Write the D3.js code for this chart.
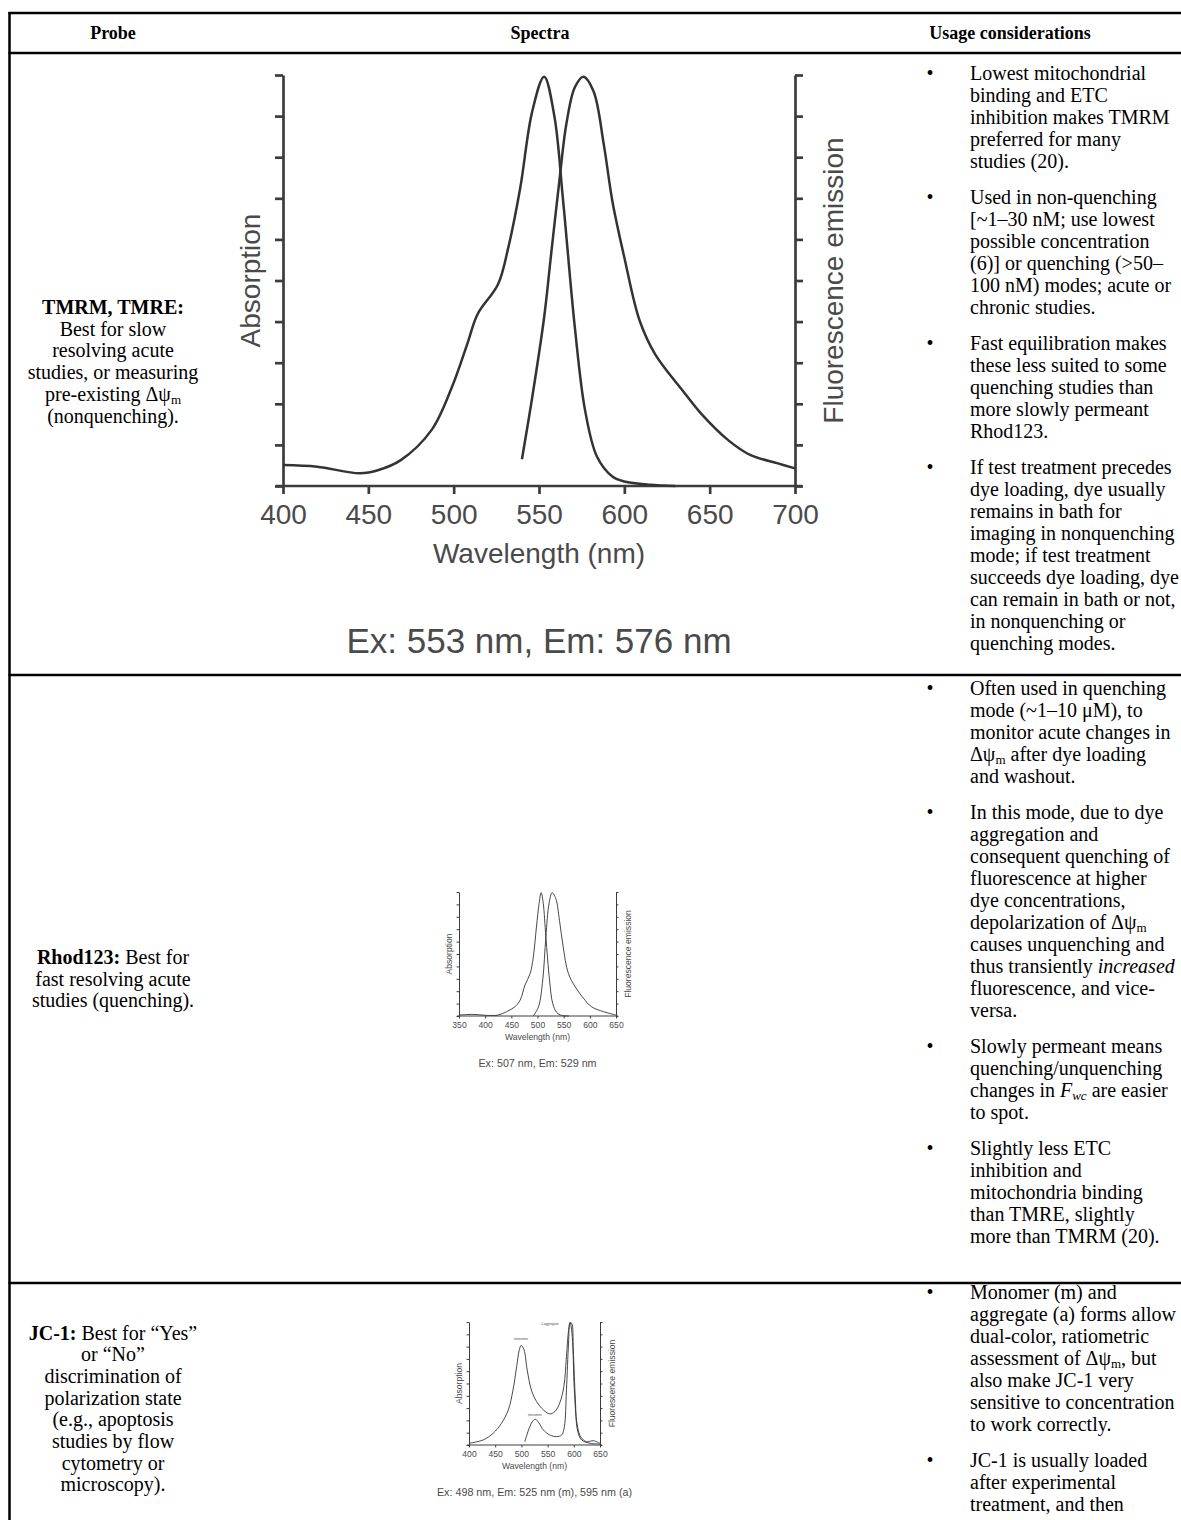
<!DOCTYPE html>
<html>
<head>
<meta charset="utf-8">
<script src="https://cdn.jsdelivr.net/npm/d3@7"></script>
<style>
  body { margin: 0; background: #fff; }
  svg text { font-family: "Liberation Serif", "Times New Roman", serif; fill: #000; }
  svg .fig text { font-family: "Liberation Sans", Arial, sans-serif; fill: #4a4a4a; }
</style>
</head>
<body>
<svg id="page" width="1181" height="1520"></svg>
<script>
// ---- spectra: [wavelength nm, relative intensity 0..1] ----
const tmrmAbs = [[400,0.051],[420,0.047],[445,0.031],[456,0.039],[469,0.063],[487,0.136],[499,0.241],[508,0.346],[514,0.418],[526,0.491],[532,0.58],[539,0.725],[546,0.911],[553,0.996],[559,0.9],[564,0.7],[571,0.386],[577,0.184],[584,0.071],[593,0.023],[600,0.011],[615,0.003],[630,0]];
const tmrmEm = [[540,0.065],[546,0.215],[553,0.41],[557,0.56],[562,0.745],[566,0.88],[571,0.97],[576,0.996],[582,0.96],[588,0.83],[593,0.693],[600,0.556],[609,0.402],[618,0.321],[634,0.233],[645,0.176],[661,0.111],[674,0.075],[690,0.055],[700,0.043]];

const rhodAbs = [[350,0.008],[377,0.013],[403,0.005],[425,0.008],[441,0.035],[457,0.075],[467,0.129],[476,0.249],[486,0.343],[492,0.477],[498,0.718],[503,0.906],[507,0.995],[511,0.906],[516,0.638],[523,0.29],[529,0.102],[537,0.027],[546,0.005],[560,0]];
const rhodEm = [[492,0],[502,0.075],[510,0.29],[516,0.638],[522,0.906],[528,0.995],[535,0.946],[542,0.772],[549,0.558],[559,0.343],[572,0.236],[588,0.142],[603,0.075],[626,0.035],[650,0.008]];

const jcAbs = [[400,0.014],[427,0.041],[446,0.095],[462,0.177],[475,0.285],[484,0.448],[491,0.639],[496,0.774],[499.5,0.81],[505,0.774],[511,0.611],[519,0.448],[529,0.353],[542,0.285],[554,0.253],[564,0.272],[573,0.34],[581,0.476],[586,0.72],[590,0.93],[593,0.997],[597,0.883],[601,0.448],[606,0.177],[613,0.068],[624,0.027],[637,0.035],[650,0.014]];
const jcEm = [[506.5,0.027],[516,0.149],[522,0.196],[527,0.209],[533,0.182],[542,0.122],[554,0.082],[567,0.068],[577,0.082],[582,0.149],[586,0.448],[590,0.829],[593,0.992],[596,0.99],[599,0.774],[603,0.367],[607,0.122],[615,0.041],[631,0.014],[650,0.008]];
const jcNotes = [["J-aggregate", 554, 0.975], ["monomer", 499.5, 0.855], ["monomer", 526, 0.236]];

const levelTicks = [0, 0.1, 0.2, 0.3, 0.4, 0.5, 0.6, 0.7, 0.8, 0.9, 1];
const tmrmTicks = [400, 450, 500, 550, 600, 650, 700];
const rhodTicks = [350, 400, 450, 500, 550, 600, 650];
const jcTicks = [400, 450, 500, 550, 600, 650];
const captions = ["Ex: 553 nm, Em: 576 nm", "Ex: 507 nm, Em: 529 nm", "Ex: 498 nm, Em: 525 nm (m), 595 nm (a)"];

// ---- table text ----
const headers = ["Probe", "Spectra", "Usage considerations"];
const probeText = [
  [[["TMRM, TMRE:", "b"]], "Best for slow", "resolving acute", "studies, or measuring", [["pre-existing Δψ", ""], ["m", "s"]], "(nonquenching)."],
  [[["Rhod123:", "b"], [" Best for", ""]], "fast resolving acute", "studies (quenching)."],
  [[["JC-1:", "b"], [" Best for “Yes”", ""]], "or “No”", "discrimination of", "polarization state", "(e.g., apoptosis", "studies by flow", "cytometry or", "microscopy)."]
];
const usageText = [
  [
    ["Lowest mitochondrial", "binding and ETC", "inhibition makes TMRM", "preferred for many", "studies (20)."],
    ["Used in non-quenching", "[~1–30 nM; use lowest", "possible concentration", "(6)] or quenching (>50–", "100 nM) modes; acute or", "chronic studies."],
    ["Fast equilibration makes", "these less suited to some", "quenching studies than", "more slowly permeant", "Rhod123."],
    ["If test treatment precedes", "dye loading, dye usually", "remains in bath for", "imaging in nonquenching", "mode; if test treatment", "succeeds dye loading, dye", "can remain in bath or not,", "in nonquenching or", "quenching modes."]
  ],
  [
    ["Often used in quenching", "mode (~1–10 μM), to", "monitor acute changes in", [["Δψ", ""], ["m", "s"], [" after dye loading", ""]], "and washout."],
    ["In this mode, due to dye", "aggregation and", "consequent quenching of", "fluorescence at higher", "dye concentrations,", [["depolarization of Δψ", ""], ["m", "s"]], "causes unquenching and", [["thus transiently ", ""], ["increased", "i"]], "fluorescence, and vice-", "versa."],
    ["Slowly permeant means", "quenching/unquenching", [["changes in ", ""], ["F", "i"], ["wc", "is"], [" are easier", ""]], "to spot."],
    ["Slightly less ETC", "inhibition and", "mitochondria binding", "than TMRE, slightly", "more than TMRM (20)."]
  ],
  [
    ["Monomer (m) and", "aggregate (a) forms allow", "dual-color, ratiometric", [["assessment of Δψ", ""], ["m", "s"], [", but", ""]], "also make JC-1 very", "sensitive to concentration", "to work correctly."],
    ["JC-1 is usually loaded", "after experimental", "treatment, and then"]
  ]
];

const page = d3.select("#page");

// table rules
const rows = [13, 53, 675, 1283];
rows.forEach(y => page.append("line")
  .attr("x1", 8.5).attr("x2", 1181).attr("y1", y).attr("y2", y)
  .attr("stroke", "#000").attr("stroke-width", 2.5));
page.append("line").attr("x1", 9.5).attr("x2", 9.5).attr("y1", 12).attr("y2", 1520)
  .attr("stroke", "#000").attr("stroke-width", 2.5);

function writeLine(x, y, anchor, line, size) {
  const t = page.append("text").attr("x", x).attr("y", y)
    .attr("text-anchor", anchor).attr("font-size", size);
  const parts = typeof line === "string" ? [[line, ""]] : line;
  let shift = 0;
  parts.forEach(([s, st]) => {
    const sp = t.append("tspan").text(s);
    if (st.includes("b")) sp.attr("font-weight", "bold");
    if (st.includes("i")) sp.attr("font-style", "italic");
    const want = st.includes("s") ? 3 : 0;
    if (want !== shift) { sp.attr("dy", want - shift); shift = want; }
    if (st.includes("s")) sp.attr("font-size", size * 0.65);
  });
}

// header
const headX = [113, 540, 1010];
headers.forEach((h, i) => page.append("text")
  .attr("x", headX[i]).attr("y", 39).attr("text-anchor", "middle")
  .attr("font-size", 18).attr("font-weight", "bold").text(h));

// probe column, centred in each row
const probeTop = [314, 964, 1339.5];
probeText.forEach((lines, r) => {
  lines.forEach((l, j) => writeLine(113, probeTop[r] + j * 21.7, "middle", l, 20));
});

// usage column, bullets
const usageTop = [80, 695, 1299];
usageText.forEach((items, r) => {
  let y = usageTop[r];
  items.forEach(lines => {
    page.append("text").attr("x", 930).attr("y", y).attr("text-anchor", "middle")
      .attr("font-size", 20).text("•");
    lines.forEach(l => { writeLine(970, y, "start", l, 20); y += 22; });
    y += 14;
  });
});

// ---- spectra panels ----
const boxes = [
  { x0: 283, x1: 795, y0: 75, y1: 486, k: 1 },
  { x0: 459, x1: 616, y0: 892, y1: 1016, k: 0.307 },
  { x0: 469, x1: 600, y0: 1322, y1: 1445, k: 0.307 }
];
const specs = [
  { abs: tmrmAbs, em: tmrmEm, ticks: tmrmTicks, cap: captions[0] },
  { abs: rhodAbs, em: rhodEm, ticks: rhodTicks, cap: captions[1] },
  { abs: jcAbs, em: jcEm, ticks: jcTicks, cap: captions[2], notes: jcNotes }
];

function drawSpectrum(box, spec) {
  const { x0, x1, y0, y1, k } = box;
  const x = d3.scaleLinear().domain(d3.extent(spec.ticks)).range([x0, x1]);
  const y = d3.scaleLinear().domain([0, 1]).range([y1, y0]);
  const g = page.append("g").attr("class", "fig");
  const sw = Math.max(1, 2.7 * k);
  const tl = 8 * k;
  const ink = "#3c3c3c";

  const left = g.append("g").attr("transform", `translate(${x0},0)`)
    .call(d3.axisLeft(y).tickValues(levelTicks).tickFormat("").tickSize(tl).tickSizeOuter(0));
  const right = g.append("g").attr("transform", `translate(${x1},0)`)
    .call(d3.axisRight(y).tickValues(levelTicks).tickFormat("").tickSize(tl).tickSizeOuter(0));
  const tickFont = 28 * k;
  const bottom = g.append("g").attr("transform", `translate(0,${y1})`)
    .call(d3.axisBottom(x).tickValues(spec.ticks).tickSize(tl).tickSizeOuter(0)
      .tickPadding(38 * k - tl - 0.71 * tickFont));
  bottom.select(".domain").remove();
  g.append("line").attr("x1", x0 - 7 * k).attr("x2", x1 + 7 * k)
    .attr("y1", y1).attr("y2", y1).attr("stroke", ink).attr("stroke-width", sw);

  [left, right, bottom].forEach(a => {
    a.attr("font-family", null).attr("font-size", null);
    a.selectAll("path, line").attr("stroke", ink).attr("stroke-width", sw);
    a.selectAll("text").attr("font-size", tickFont).attr("fill", "#4a4a4a");
  });

  const line = d3.line().x(d => x(d[0])).y(d => y(d[1])).curve(d3.curveCatmullRom.alpha(0.5));
  [spec.abs, spec.em].forEach(s => g.append("path").attr("d", line(s))
    .attr("fill", "none").attr("stroke", "#333").attr("stroke-width", Math.max(0.9, 2.5 * k))
    .attr("stroke-linejoin", "round"));

  const mid = (y0 + y1) / 2;
  g.append("text").attr("transform", `translate(${x0 - 23 * k},${mid}) rotate(-90)`)
    .attr("text-anchor", "middle").attr("font-size", 28 * k).text("Absorption");
  g.append("text").attr("transform", `translate(${x1 + 48 * k},${mid}) rotate(-90)`)
    .attr("text-anchor", "middle").attr("font-size", 28 * k).text("Fluorescence emission");
  g.append("text").attr("x", (x0 + x1) / 2).attr("y", y1 + 77 * k)
    .attr("text-anchor", "middle").attr("font-size", 28 * k).text("Wavelength (nm)");
  g.append("text").attr("x", (x0 + x1) / 2).attr("y", y1 + 167 * k)
    .attr("text-anchor", "middle").attr("font-size", 35 * k).attr("fill", "#505050").text(spec.cap);

  (spec.notes || []).forEach(([t, nm, v]) => g.append("text")
    .attr("x", x(nm)).attr("y", y(v)).attr("text-anchor", "middle")
    .attr("font-size", 3.3).attr("fill", "#666").text(t));
}

boxes.forEach((b, i) => drawSpectrum(b, specs[i]));
</script>
</body>
</html>
